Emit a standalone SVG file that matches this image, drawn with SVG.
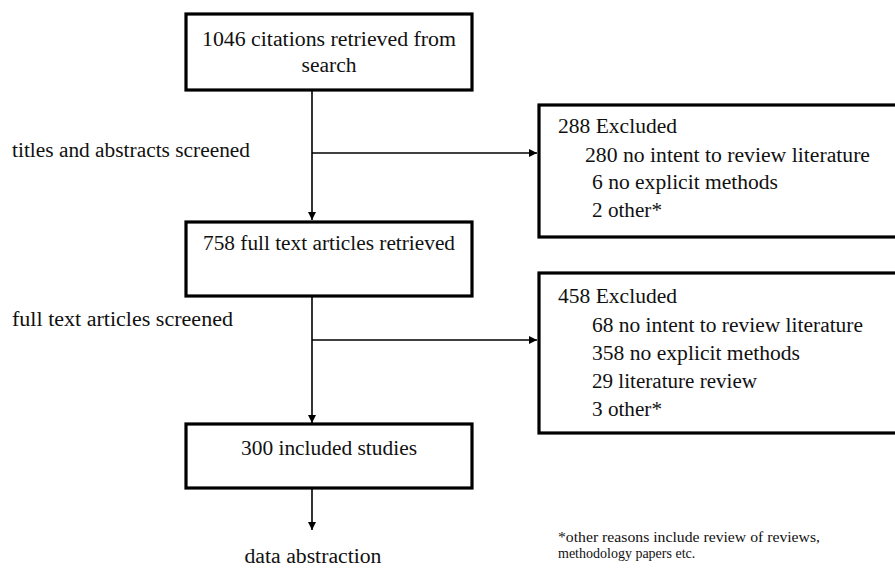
<svg xmlns="http://www.w3.org/2000/svg" width="895" height="569" viewBox="0 0 895 569">
<defs>
<marker id="ah" markerWidth="10" markerHeight="10" refX="9" refY="5" orient="auto" markerUnits="userSpaceOnUse">
<path d="M1,1 L9,5 L1,9 Z" fill="#000"/>
</marker>
<style>
.box{fill:#fff;stroke:#000;stroke-width:3.2}
text{font-family:'Liberation Serif','DejaVu Serif',serif;fill:#111}
.t{font-size:20px}
.c{text-anchor:middle}
.ln{stroke:#000;stroke-width:1.6;fill:none}
.fn{font-size:14px}
</style>
</defs>
<rect width="895" height="569" fill="#fff"/>
<g id="connectors">
<line class="ln" x1="312" y1="91" x2="312" y2="220" marker-end="url(#ah)"/>
<line class="ln" x1="312" y1="153" x2="537" y2="153" marker-end="url(#ah)"/>
<line class="ln" x1="312" y1="297" x2="312" y2="423" marker-end="url(#ah)"/>
<line class="ln" x1="312" y1="340" x2="537" y2="340" marker-end="url(#ah)"/>
<line class="ln" x1="312" y1="489" x2="312" y2="530" marker-end="url(#ah)"/>
</g>
<g id="n1">
<rect class="box" x="186" y="14" width="286" height="76"/>
<text class="t c" x="329" y="46" textLength="254" lengthAdjust="spacingAndGlyphs">1046 citations retrieved from</text>
<text class="t c" x="329" y="72" textLength="55" lengthAdjust="spacingAndGlyphs">search</text>
</g>
<g id="lbl1"><text class="t" x="12" y="157" textLength="238" lengthAdjust="spacingAndGlyphs">titles and abstracts screened</text></g>
<g id="n2">
<rect class="box" x="539" y="105" width="370" height="132"/>
<text class="t" x="558" y="133" textLength="119" lengthAdjust="spacingAndGlyphs">288 Excluded</text>
<text class="t" x="585" y="162" textLength="285" lengthAdjust="spacingAndGlyphs">280 no intent to review literature</text>
<text class="t" x="592" y="189" textLength="186" lengthAdjust="spacingAndGlyphs">6 no explicit methods</text>
<text class="t" x="592" y="217" textLength="70" lengthAdjust="spacingAndGlyphs">2 other*</text>
</g>
<g id="n3">
<rect class="box" x="186" y="222" width="286" height="74"/>
<text class="t c" x="329" y="250" textLength="252" lengthAdjust="spacingAndGlyphs">758 full text articles retrieved</text>
</g>
<g id="lbl2"><text class="t" x="12" y="326" textLength="221" lengthAdjust="spacingAndGlyphs">full text articles screened</text></g>
<g id="n4">
<rect class="box" x="539" y="273" width="370" height="160"/>
<text class="t" x="558" y="303" textLength="119" lengthAdjust="spacingAndGlyphs">458 Excluded</text>
<text class="t" x="592" y="332" textLength="271" lengthAdjust="spacingAndGlyphs">68 no intent to review literature</text>
<text class="t" x="592" y="360" textLength="208" lengthAdjust="spacingAndGlyphs">358 no explicit methods</text>
<text class="t" x="592" y="388" textLength="165" lengthAdjust="spacingAndGlyphs">29 literature review</text>
<text class="t" x="592" y="416" textLength="70" lengthAdjust="spacingAndGlyphs">3 other*</text>
</g>
<g id="n5">
<rect class="box" x="186" y="424" width="286" height="64"/>
<text class="t c" x="329" y="455" textLength="176" lengthAdjust="spacingAndGlyphs">300 included studies</text>
</g>
<g id="lbl3"><text class="t c" x="313" y="563" textLength="137" lengthAdjust="spacingAndGlyphs">data abstraction</text></g>
<g id="footnote">
<text class="fn" x="558" y="542" textLength="262" lengthAdjust="spacingAndGlyphs">*other reasons include review of reviews,</text>
<text class="fn" x="558" y="558">methodology papers etc.</text>
</g>
</svg>
